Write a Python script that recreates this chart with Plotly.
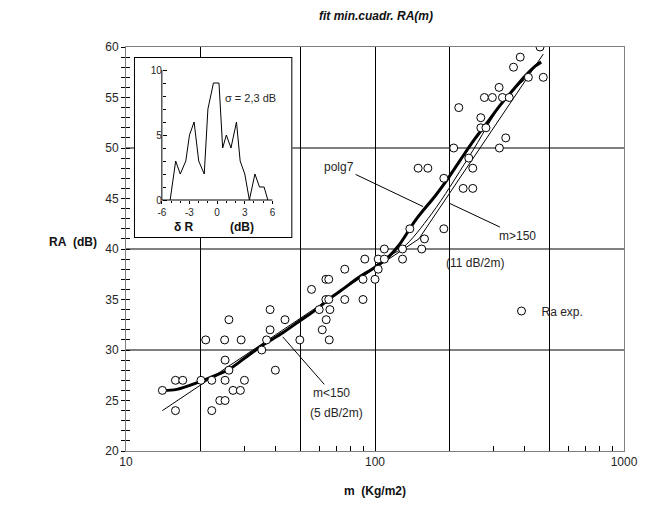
import math
import plotly.graph_objects as go

# ---- measured sound reduction index RA against surface mass m ----
M_EXP = [460, 383, 360, 413, 474, 315, 275, 296, 325, 346, 217, 266, 266, 279, 335,
         207, 316, 238, 149, 163, 247, 189, 226, 247, 138, 189, 158,
         109, 129, 154, 91, 103, 109, 129, 75.6, 103,
         63.5, 65.2, 89.5, 100, 55.6, 63.5, 65.2, 75.6, 89.5,
         37.9, 59.7, 65.9, 25.9, 43.5, 63.7, 37.9, 61.4,
         20.9, 24.9, 29.0, 36.7, 49.9, 65.5, 35.1, 25.0, 25.9, 39.8,
         15.8, 16.9, 20.0, 22.1, 25.0, 29.9, 14.0, 26.9, 28.8, 23.8, 25.0, 15.8, 22.1]
RA_EXP = [60, 59, 58, 57, 57, 56, 55, 55, 55, 55, 54, 53, 52, 52, 51,
          50, 50, 49, 48, 48, 48, 47, 46, 46, 42, 42, 41,
          40, 40, 40, 39, 39, 39, 39, 38, 38,
          37, 37, 37, 37, 36, 35, 35, 35, 35,
          34, 34, 34, 33, 33, 33, 32, 32,
          31, 31, 31, 31, 31, 31, 30, 29, 28, 28,
          27, 27, 27, 27, 27, 27, 26, 26, 26, 25, 25, 24, 24]

# 7th-degree polynomial least-squares fit (sampled)
POLG7_M = [14, 16, 20, 23, 26, 30, 35, 42, 50, 58, 65, 75, 85, 100, 112, 125,
           146, 175, 194, 220, 250, 280, 315, 360, 400, 440, 465]
POLG7_RA = [26.0, 26.1, 26.9, 27.5, 28.1, 29.2, 30.4, 31.6, 32.9, 34.0, 35.0, 36.1,
            37.1, 38.2, 39.1, 40.4, 42.9, 45.3, 46.8, 48.8, 50.8, 52.4, 54.1, 55.8,
            57.1, 58.1, 58.5]

# straight fits for the two mass ranges
FIT_LO_M = [14, 150]          # m < 150 : 5 dB per doubling of mass
FIT_LO_RA = [24.0, 41.0]
FIT_HI_M = [150, 474]         # m > 150 : 11 dB per doubling of mass
FIT_HI_RA = [41.0, 59.3]

# transition curve between the two ranges
TRANS_M = [100, 109, 129, 169, 238, 330, 413]
TRANS_RA = [38.3, 39.1, 40.1, 43.5, 49.1, 54.7, 57.1]

# residual distribution (inset)
DELTA_R = [-5.1, -4.5, -4.0, -3.4, -3.0, -2.5, -2.0, -1.4, -1.0, -0.4, 0.2, 0.6,
           1.0, 1.5, 2.1, 2.5, 3.0, 3.5, 4.1, 4.6, 5.1, 5.5]
COUNT = [0, 3, 2, 3, 5, 6, 3, 2, 7, 9, 9, 4, 5, 4, 6, 3, 2, 0, 2, 1, 1, 0]

X_LABEL_TICKS = [10, 20, 50, 100, 200, 500, 1000]
X_LABEL_TEXT = ["10", "", "", "100", "", "", "1000"]
X_MINOR_TICKS = [30, 40, 60, 70, 80, 90, 300, 400, 600, 700, 800, 900]
Y_LABEL_TICKS = [20, 25, 30, 35, 40, 45, 50, 55, 60]
Y_GRID = [30, 40, 50]
INSET_X_TICKS = [-6, -3, 0, 3, 6]
INSET_X_TEXT = ["-6", "-3", "0", "3", "6"]
INSET_Y_TICKS = [0, 5, 10]

W, H = 650, 515
L, R, T, B = 126, 24, 47, 64
PW, PH = W - L - R, H - T - B


def px(x):
    return (x - L) / PW


def py(y):
    return (H - B - y) / PH


FONT = "Liberation Sans, Arial, sans-serif"
TXT = "#262626"
FRAME = "#808080"

fig = go.Figure()

# main fits
fig.add_trace(go.Scatter(x=FIT_LO_M, y=FIT_LO_RA, mode="lines",
                         line=dict(color="#000", width=1), showlegend=False, hoverinfo="skip"))
fig.add_trace(go.Scatter(x=FIT_HI_M, y=FIT_HI_RA, mode="lines",
                         line=dict(color="#000", width=1), showlegend=False, hoverinfo="skip"))
fig.add_trace(go.Scatter(x=TRANS_M, y=TRANS_RA, mode="lines", line_shape="spline",
                         line=dict(color="#000", width=1), showlegend=False, hoverinfo="skip"))
fig.add_trace(go.Scatter(x=POLG7_M, y=POLG7_RA, mode="lines", line_shape="spline",
                         line=dict(color="#000", width=3), showlegend=False, hoverinfo="skip"))
fig.add_trace(go.Scatter(x=M_EXP, y=RA_EXP, mode="markers", name="Ra exp.",
                         marker=dict(symbol="circle", size=8, color="white",
                                     line=dict(color="#000", width=1))))
# companion axis carrying the inner half of the y ticks
fig.add_trace(go.Scatter(x=[], y=[], yaxis="y2", showlegend=False, hoverinfo="skip"))

# ---- inset: distribution of residuals ----
IX0, IX1 = -6, 6          # inner axis range
IY0, IY1 = 0, 10
# inset frame in pixels and inner-axis pixel anchors
BOX = dict(l=134, r=293, t=57, b=238)
AX_L, AX_R, AX_B, AX_T = 162, 273, 200, 70
sx = (AX_R - AX_L) / (IX1 - IX0)
sy = (AX_B - AX_T) / (IY1 - IY0)
ix_rng = [IX0 - (AX_L - BOX["l"]) / sx, IX1 + (BOX["r"] - AX_R) / sx]
iy_rng = [IY0 - (BOX["b"] - AX_B) / sy, IY1 + (AX_T - BOX["t"]) / sy]

fig.add_trace(go.Scatter(
    x=[ix_rng[0], ix_rng[1], ix_rng[1], ix_rng[0], ix_rng[0]],
    y=[iy_rng[0], iy_rng[0], iy_rng[1], iy_rng[1], iy_rng[0]],
    xaxis="x3", yaxis="y3", mode="lines", fill="toself", fillcolor="white",
    line=dict(color="#000", width=2), showlegend=False, hoverinfo="skip"))
fig.add_trace(go.Scatter(x=[IX0, IX1, None, IX0, IX0], y=[IY0, IY0, None, IY0, IY1],
                         xaxis="x3", yaxis="y3", mode="lines",
                         line=dict(color="#000", width=1), showlegend=False, hoverinfo="skip"))
fig.add_trace(go.Scatter(x=DELTA_R, y=COUNT, xaxis="x3", yaxis="y3", mode="lines",
                         line=dict(color="#000", width=1), showlegend=False, hoverinfo="skip"))

axis_font = dict(family=FONT, size=12, color=TXT)

fig.update_layout(
    width=W, height=H,
    margin=dict(l=L, r=R, t=T, b=B),
    paper_bgcolor="white", plot_bgcolor="white",
    font=dict(family=FONT, size=12, color=TXT),
    title=dict(text="<b><i>fit min.cuadr. RA(m)</i></b>", x=376 / W, xanchor="center",
               y=1 - 16 / H, yanchor="middle", font=dict(family=FONT, size=12, color="#111")),
    xaxis=dict(type="log", range=[1, 3], showline=True, linecolor=FRAME, linewidth=1, mirror=True,
               tickvals=X_LABEL_TICKS, ticktext=X_LABEL_TEXT, ticks="inside", ticklen=8,
               tickcolor="#000", showgrid=True, gridcolor="#000", gridwidth=1, zeroline=False,
               tickfont=axis_font,
               minor=dict(tickvals=X_MINOR_TICKS, ticks="inside", ticklen=5, tickcolor="#000",
                          showgrid=False)),
    yaxis=dict(range=[20, 60], showline=True, linecolor=FRAME, linewidth=1, mirror=True,
               tickvals=Y_LABEL_TICKS, ticks="outside", ticklen=4, tickcolor="#000",
               showgrid=False, zeroline=False, tickfont=axis_font,
               minor=dict(dtick=1, ticks="outside", ticklen=4, tickcolor="#000", showgrid=False)),
    yaxis2=dict(range=[20, 60], overlaying="y", side="left", showticklabels=False,
                showline=False, showgrid=False, zeroline=False, tickvals=Y_LABEL_TICKS,
                ticks="inside", ticklen=4, tickcolor="#000",
                minor=dict(dtick=1, ticks="inside", ticklen=4, tickcolor="#000", showgrid=False)),
    xaxis3=dict(domain=[px(BOX["l"]), px(BOX["r"])], range=ix_rng, anchor="free",
                position=py(AX_B), showline=False, showgrid=False, zeroline=False,
                tickvals=INSET_X_TICKS, ticktext=INSET_X_TEXT, ticks="outside", ticklen=3,
                tickcolor="#000", tickfont=dict(family=FONT, size=10, color=TXT),
                minor=dict(tickvals=list(range(-6, 7)), ticks="outside", ticklen=2,
                           tickcolor="#000", showgrid=False)),
    yaxis3=dict(domain=[py(BOX["b"]), py(BOX["t"])], range=iy_rng, anchor="free",
                position=px(AX_L), showline=False, showgrid=False, zeroline=False,
                tickvals=INSET_Y_TICKS, ticks="inside", ticklen=4, tickcolor="#000",
                tickfont=dict(family=FONT, size=10, color=TXT),
                minor=dict(tickvals=list(range(0, 11)), ticks="inside", ticklen=3,
                           tickcolor="#000", showgrid=False)),
    legend=dict(x=px(503), y=py(311), xanchor="left", yanchor="middle",
                bgcolor="rgba(0,0,0,0)", font=dict(family=FONT, size=12, color=TXT),
                itemwidth=30),
)

# horizontal grid lines every 10 dB
for g in Y_GRID:
    fig.add_shape(type="line", xref="paper", yref="y", x0=0, x1=1, y0=g, y1=g,
                  line=dict(color="#000", width=1), layer="below")

# axis titles
fig.add_annotation(text="<b>m\u00a0\u00a0(Kg/m2)</b>", xref="paper", yref="paper",
                   x=px(376), y=py(500), showarrow=False, font=dict(family=FONT, size=12, color="#111"))
fig.add_annotation(text="<b>RA\u00a0\u00a0(dB)</b>", xref="paper", yref="paper",
                   x=px(47), y=py(242), showarrow=False, font=dict(family=FONT, size=12, color="#111"))

# curve labels with leader lines
lab_font = dict(family=FONT, size=12, color=TXT)
fig.add_annotation(text="polg7", x=math.log10(156), y=44.2, ax=-84, ay=-40,
                   showarrow=True, arrowhead=0, arrowwidth=1, arrowcolor="#000", font=lab_font)
fig.add_annotation(text="m>150", x=math.log10(200), y=44.5, ax=68, ay=32,
                   showarrow=True, arrowhead=0, arrowwidth=1, arrowcolor="#000", font=lab_font)
fig.add_annotation(text="m<150", x=math.log10(42.6), y=31.3, ax=49, ay=56,
                   showarrow=True, arrowhead=0, arrowwidth=1, arrowcolor="#000", font=lab_font)
fig.add_annotation(text="(11 dB/2m)", xref="paper", yref="paper", x=px(508), y=py(263),
                   showarrow=False, font=lab_font)
fig.add_annotation(text="(5 dB/2m)", xref="paper", yref="paper", x=px(337), y=py(422),
                   showarrow=False, font=lab_font)

# inset texts
fig.add_annotation(text="\u03c3 = 2,3 dB", xref="paper", yref="paper", x=px(223), y=py(90),
                   xanchor="left", showarrow=False, font=dict(family=FONT, size=11, color=TXT))
fig.add_annotation(text="<b>\u03b4 R</b>", xref="paper", yref="paper", x=px(172), y=py(227),
                   xanchor="left", showarrow=False, font=dict(family=FONT, size=12, color="#111"))
fig.add_annotation(text="<b>(dB)</b>", xref="paper", yref="paper", x=px(228), y=py(227),
                   xanchor="left", showarrow=False, font=dict(family=FONT, size=12, color="#111"))

fig.write_html("out.html")
